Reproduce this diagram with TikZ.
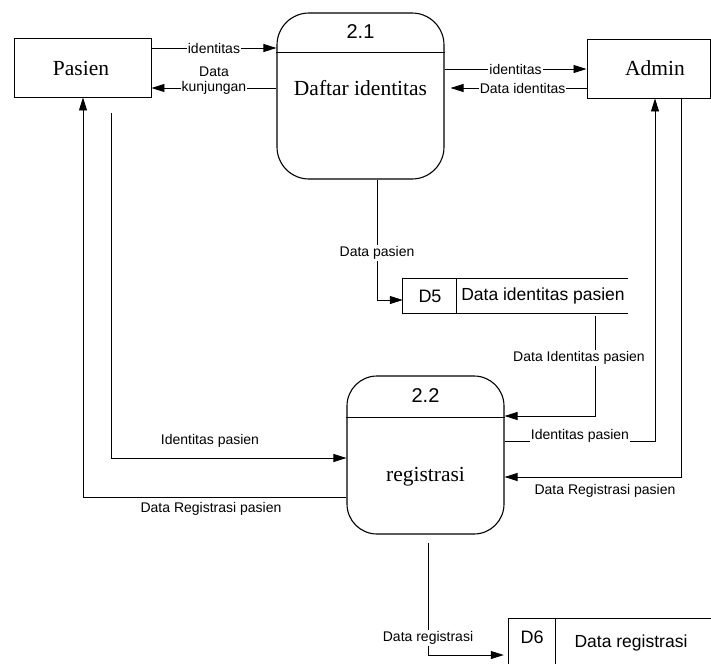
\documentclass[tikz,border=0pt]{standalone}
\usepackage{fontspec}
\setmainfont{Liberation Serif}
\setsansfont{Liberation Sans}
\usetikzlibrary{arrows.meta,calc}

\begin{document}
\begin{tikzpicture}[x=1pt,y=-1pt,
  flow/.style={line width=0.8pt, -{Triangle[length=13pt,width=8pt]}},
  lbl/.style={font=\sffamily\fontsize{14}{16}\selectfont, inner sep=1pt},
  onlbl/.style={lbl, fill=white},
  entity/.style={draw, line width=0.9pt, rectangle, inner sep=0pt},
  entname/.style={font=\fontsize{21.5}{24}\selectfont, inner sep=0pt},
  proc/.style={draw, line width=1.1pt, rectangle, rounded corners=32pt, inner sep=0pt},
  procid/.style={font=\sffamily\fontsize{20}{22}\selectfont, inner sep=0pt},
  procname/.style={font=\fontsize{21.5}{24}\selectfont, inner sep=0pt},
  storebox/.style={inner sep=0pt},
  storeline/.style={line width=0.8pt},
  storeid/.style={font=\sffamily\fontsize{18}{20}\selectfont, inner sep=0pt},
  storename/.style={font=\sffamily\fontsize{17.5}{20}\selectfont, inner sep=0pt}
]
\useasboundingbox (0,0) rectangle (711,664);

% External entities
\node[entity, minimum width=137pt, minimum height=59pt] (pasien) at (82.5,67.5) {};
\node[entname] (pasienT) at (81,68) {Pasien};
\node[entity, minimum width=123pt, minimum height=59pt] (admin) at (648.5,68.5) {};
\node[entname] (adminT) at (655,68) {Admin};

% Process 2.1
\node[proc, minimum width=167pt, minimum height=166pt] (p21) at (360.5,96) {};
\draw[line width=1pt] (p21.west |- 0,52) -- (p21.east |- 0,52);
\node[procid] (p21n) at (360.5,32) {2.1};
\node[procname] (p21t) at (360.5,88) {Daftar identitas};

% Process 2.2
\node[proc, rounded corners=30pt, minimum width=157pt, minimum height=158pt] (p22) at (425.5,455) {};
\draw[line width=1pt] (p22.west |- 0,417) -- (p22.east |- 0,417);
\node[procid] (p22n) at (425.5,396) {2.2};
\node[procname] (p22t) at (425.5,477) {registrasi};

% Data store D5
\node[storebox, minimum width=225pt, minimum height=34pt] (d5) at (515.5,296) {};
\draw[storeline] (d5.north east) -- (d5.north west) -- (d5.south west) -- (d5.south east);
\draw[storeline] ([xshift=54pt]d5.north west) -- ([xshift=54pt]d5.south west);
\node[storeid] (d5id) at (430,296) {D5};
\node[storename] (d5name) at (543,296) {Data identitas pasien};

% Data store D6
\node[storebox, minimum width=202pt, minimum height=45pt] (d6) at (610,641.5) {};
\draw[storeline] (d6.north east) -- (d6.north west) -- (d6.south west);
\draw[storeline] ([xshift=47pt]d6.north west) -- ([xshift=47pt]d6.south west);
\node[storeid] (d6id) at (532,637) {D6};
\node[storename] (d6name) at (631,643) {Data registrasi};

% Flows around process 2.1
\draw[flow] (pasien.east |- 0,48) -- (p21.west |- 0,48)
  node[onlbl, midway] {identitas};
\draw[flow] (p21.west |- 0,88) -- (pasien.east |- 0,88)
  node[onlbl, midway] (kj) {kunjungan};
\node[lbl] (kjData) at (214,72) {Data};
\draw[flow] (p21.east |- 0,69) -- (admin.west |- 0,69)
  node[onlbl, midway] {identitas};
\draw[flow, shorten >=6pt] (admin.west |- 0,88) -- (p21.east |- 0,88)
  node[onlbl, pos=0.45] {Data identitas};

% Process 2.1 to store D5
\draw[flow] (p21.south -| 377,0) |- (d5.west |- 0,300);
\node[onlbl] (dpLbl) at (377,253) {Data pasien};

% Store D5 to process 2.2
\draw[flow] ($(d5.south -| 595,0)+(0,3)$) |- (p22.east |- 0,416);
\node[onlbl] (dipLbl) at (579,358) {Data Identitas pasien};

% Pasien <-> process 2.2
\draw[flow] ($(pasien.south -| 111,0)+(0,16)$) |- (p22.west |- 0,458);
\node[lbl] (ipLbl) at (210,441) {Identitas pasien};
\draw[flow] (p22.west |- 0,497) -| (pasien.south -| 83,0);
\node[lbl] (drpLbl) at (211,509) {Data Registrasi pasien};

% Admin <-> process 2.2
\draw[flow] (p22.east |- 0,441) -| (admin.south -| 655,0);
\node[onlbl] (ipLbl2) at (580,436) {Identitas pasien};
\draw[flow] (admin.south -| 681,0) |- (p22.east |- 0,477);
\node[lbl] (drpLbl2) at (605,491) {Data Registrasi pasien};

% Process 2.2 to store D6
\draw[flow] ($(p22.south -| 428,0)+(0,8)$) |- ($(d6.west |- 0,655)+(-5,0)$);
\node[onlbl] (drLbl) at (428,638) {Data registrasi};

\end{tikzpicture}
\end{document}
